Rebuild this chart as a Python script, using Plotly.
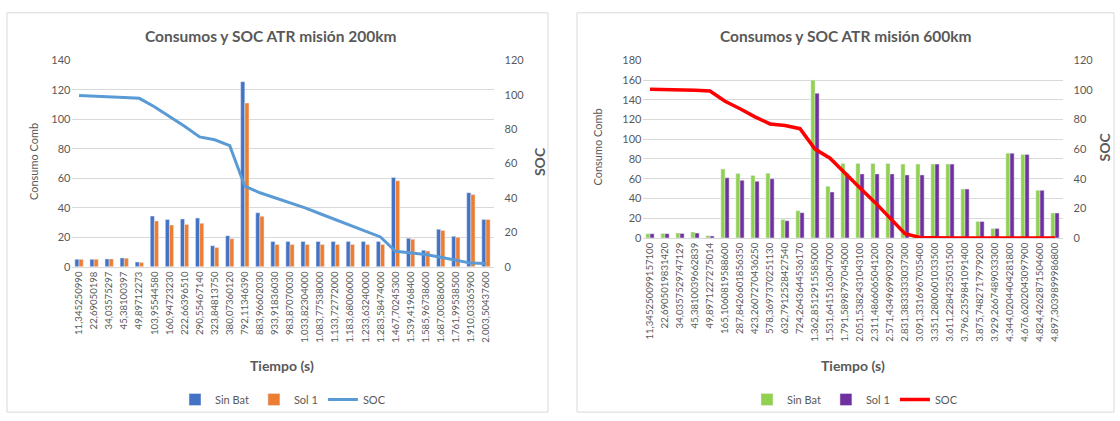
import plotly.graph_objects as go

# ---- Misión 200 km ----
tiempo_200 = [
    "11,345250990", "22,69050198", "34,03575297", "45,38100397", "49,89712273",
    "103,95544580", "160,94723230", "222,66396510", "290,55467140", "323,84813750",
    "380,07360120", "792,11346390", "883,96602030", "933,91836030", "983,87070030",
    "1.033,82304000", "1.083,77538000", "1.133,72772000", "1.183,68006000",
    "1.233,63240000", "1.283,58474000", "1.467,70245300", "1.539,41968400",
    "1.585,96738600", "1.687,00386000", "1.761,99538500", "1.910,03365900",
    "2.003,50437600",
]
sin_bat_200 = [5, 5, 5.3, 6, 3.2, 34.4, 32, 32.4, 33, 14.2, 21, 125.5, 36.6, 17.1,
               17.1, 17.1, 17.1, 17.1, 17.1, 17.1, 17.1, 60.5, 19.3, 11.2, 25.4,
               20.6, 50.2, 32]
sol1_200 = [5, 5, 5.3, 5.8, 2.8, 31, 28.3, 28.7, 29.4, 13.1, 19, 111, 34.2, 15.1,
            15.1, 15.1, 15.1, 15.1, 15.1, 15.1, 15.1, 58.3, 18.6, 10.7, 24.6,
            20, 48.9, 32]
soc_200 = [99.6, 99.3, 99, 98.4, 97.9, 93, 87.3, 81.7, 75.5, 73.8, 70.4, 46.8,
           43.0, 40.2, 37.4, 34.2, 30.8, 27.4, 24.2, 20.8, 17.3, 9.0, 7.9, 7.1,
           5.5, 3.9, 2.1, 1.9]

# ---- Misión 600 km ----
tiempo_600 = [
    "11,345250099157100", "22,6905019831420", "34,0357529747129", "45,3810039662839",
    "49,8971227275014", "165,1060819588600", "287,8426601856350", "423,2607270436250",
    "578,3697370251130", "632,7912528427540", "724,2643644536170", "1.362,8512915585000",
    "1.531,6415163047000", "1.791,5898797045000", "2.051,5382431043100",
    "2.311,4866065041200", "2.571,4349699039200", "2.831,3833333037300",
    "3.091,3316967035400", "3.351,2800601033500", "3.611,2284235031500",
    "3.796,2359841091400", "3.875,7482717979200", "3.929,2667489033300",
    "4.344,0204404281800", "4.676,6202043097900", "4.824,4262871504600",
    "4.897,3039899986800",
]
sin_bat_600 = [4.3, 4.6, 4.9, 5.9, 2.3, 69.8, 65.2, 63.3, 65.6, 18.7, 27.5, 160,
               52.5, 75.4, 75.4, 75.4, 75.4, 74.8, 74.8, 74.8, 74.8, 49.5, 16.7,
               9.5, 85.9, 84.6, 48.2, 25.2]
sol1_600 = [4.3, 4.3, 4.6, 4.9, 2, 61, 58.4, 57.4, 60, 17.4, 25.6, 146.6, 46.6,
            65, 64.9, 64.9, 64.9, 63.9, 63.9, 74.8, 74.8, 49.5, 16.7, 9.5, 85.9,
            84.6, 48.2, 25.2]
soc_600 = [100.4, 100.3, 100.2, 99.7, 99.3, 92.3, 87.3, 81.8, 77, 75.9, 73.8, 60,
           53.9, 43.6, 33.8, 24, 13.7, 2.8, 0.3, 0, 0, 0, 0, 0, 0, 0, 0, 0]

W, H = 1120, 421
FONT = "Lato"
GREY = "#595959"
GRID = "#D9D9D9"


def px(x):
    return x / W


def py(y):
    return 1 - y / H


fig = go.Figure()

# left chart traces
fig.add_trace(go.Bar(x=tiempo_200, y=sin_bat_200, name="Sin Bat", marker_color="#4472C4",
                     xaxis="x", yaxis="y", legend="legend"))
fig.add_trace(go.Bar(x=tiempo_200, y=sol1_200, name="Sol 1", marker_color="#ED7D31",
                     xaxis="x", yaxis="y", legend="legend"))
fig.add_trace(go.Scatter(x=tiempo_200, y=soc_200, name="SOC", mode="lines",
                         line=dict(color="#5B9BD5", width=3),
                         xaxis="x", yaxis="y2", legend="legend"))

# right chart traces
fig.add_trace(go.Bar(x=tiempo_600, y=sin_bat_600, name="Sin Bat", marker_color="#92D050",
                     xaxis="x2", yaxis="y3", legend="legend2"))
fig.add_trace(go.Bar(x=tiempo_600, y=sol1_600, name="Sol 1", marker_color="#7030A0",
                     xaxis="x2", yaxis="y3", legend="legend2"))
fig.add_trace(go.Scatter(x=tiempo_600, y=soc_600, name="SOC", mode="lines",
                         line=dict(color="#FF0000", width=3.5),
                         xaxis="x2", yaxis="y4", legend="legend2"))

tickfont = dict(family=FONT, size=11, color=GREY)
xtickfont = dict(family=FONT, size=9.6, color=GREY)

x_common = dict(type="category", tickangle=-90, tickfont=xtickfont, showgrid=False,
                showline=True, linecolor=GRID, linewidth=1, ticks="", zeroline=False,
                fixedrange=True)

fig.update_layout(
    width=W, height=H,
    margin=dict(l=0, r=0, t=0, b=0),
    paper_bgcolor="white", plot_bgcolor="white",
    barmode="group", bargap=0.45, bargroupgap=0.0,
    font=dict(family=FONT, color=GREY),
    xaxis=dict(domain=[px(71.5), px(493.5)], anchor="y", **x_common),
    yaxis=dict(domain=[py(268), py(55)], range=[0, 140], dtick=20, showgrid=True,
               gridcolor=GRID, gridwidth=1, zeroline=False, showline=False,
               tickfont=tickfont, ticks="", anchor="x"),
    yaxis2=dict(domain=[py(268), py(55)], range=[0, 120], dtick=20, overlaying="y",
                side="right", showgrid=False, zeroline=False, showline=False,
                tickfont=tickfont, ticks="", anchor="x", ticklabelstandoff=10),
    xaxis2=dict(domain=[px(642.5), px(1062.5)], anchor="y3", **x_common),
    yaxis3=dict(domain=[py(238.3), py(55)], range=[0, 180], dtick=20, showgrid=True,
                gridcolor=GRID, gridwidth=1, zeroline=False, showline=False,
                tickfont=tickfont, ticks="", anchor="x2"),
    yaxis4=dict(domain=[py(238.3), py(55)], range=[0, 120], dtick=20, overlaying="y3",
                side="right", showgrid=False, zeroline=False, showline=False,
                tickfont=tickfont, ticks="", anchor="x2", ticklabelstandoff=10),
    legend=dict(orientation="h", x=px(283), y=py(405), xanchor="center", yanchor="middle",
                font=dict(family=FONT, size=11, color=GREY), bgcolor="rgba(0,0,0,0)",
                traceorder="normal"),
    legend2=dict(orientation="h", x=px(855), y=py(405), xanchor="center", yanchor="middle",
                 font=dict(family=FONT, size=11, color=GREY), bgcolor="rgba(0,0,0,0)",
                 traceorder="normal"),
    showlegend=True,
)

# chart frames
for x0, x1 in [(7, 548), (577, 1114)]:
    fig.add_shape(type="rect", xref="paper", yref="paper",
                  x0=px(x0), x1=px(x1), y0=py(418), y1=py(6),
                  line=dict(color=GRID, width=1), fillcolor="rgba(0,0,0,0)", layer="below")

annotations = [
    # titles
    dict(text="<b>Consumos y SOC ATR misión 200km</b>", x=px(270), y=py(30), size=15.5),
    dict(text="<b>Consumos y SOC ATR misión 600km</b>", x=px(845), y=py(30), size=15.5),
    # x-axis titles
    dict(text="<b>Tiempo (s)</b>", x=px(282), y=py(370), size=14),
    dict(text="<b>Tiempo (s)</b>", x=px(853), y=py(370), size=14),
    # y-axis titles
    dict(text="Consumo Comb", x=px(33), y=py(160), size=11, angle=-90),
    dict(text="<b>SOC</b>", x=px(539), y=py(160), size=14, angle=-90),
    dict(text="Consumo Comb", x=px(598), y=py(145), size=11, angle=-90),
    dict(text="<b>SOC</b>", x=px(1105), y=py(145), size=14, angle=-90),
]
for a in annotations:
    fig.add_annotation(text=a["text"], x=a["x"], y=a["y"], xref="paper", yref="paper",
                       showarrow=False, xanchor="center", yanchor="middle",
                       textangle=a.get("angle", 0),
                       font=dict(family=FONT, size=a["size"], color=GREY))

fig.write_html("out.html")
